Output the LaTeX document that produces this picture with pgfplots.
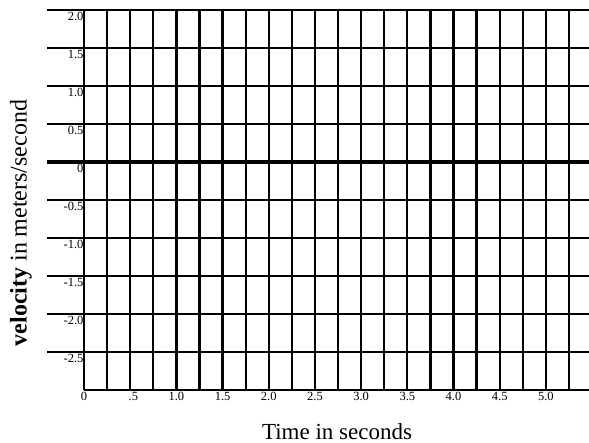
\documentclass[border=0pt]{standalone}
\usepackage{fontspec}
\setmainfont{Liberation Serif}
\usepackage{pgfplots}
\pgfplotsset{compat=1.18}
\begin{document}
\begin{tikzpicture}
\path[use as bounding box] (0pt,0pt) rectangle (589pt,443pt);
\begin{axis}[
  at={(84pt,53pt)}, anchor=south west,
  scale only axis, width=485pt, height=380pt,
  xmin=0, xmax=5.25, ymin=-3, ymax=2,
  clip=false,
  axis line style={draw=none},
  major tick length=0pt,
  xtick={0,0.5,1,1.5,2,2.5,3,3.5,4,4.5,5},
  xticklabels={0,\phantom{0}.5,1.0,1.5,2.0,2.5,3.0,3.5,4.0,4.5,5.0},
  ytick={-2.5,-2,-1.5,-1,-0.5,0,0.5,1,1.5,2},
  yticklabels={-2.5,-2.0,-1.5,-1.0,-0.5,0,0.5,1.0,1.5,2.0},
  ticklabel style={font=\fontsize{12.5}{14}\selectfont},
  xticklabel style={anchor=north, yshift=1pt},
  yticklabel style={anchor=north east, xshift=3pt, yshift=1pt},
  /pgf/number format/assume math mode=true,
]
\pgfplotsinvokeforeach{0,0.25,0.5,0.75,1,1.25,1.5,1.75,2,2.25,2.5,2.75,3,3.25,3.5,3.75,4,4.25,4.5,4.75,5,5.25}{
  \addplot[black, line width=2.3pt, forget plot] coordinates {(#1,-3) (#1,2)};
}
\pgfplotsinvokeforeach{2,1.5,1,0.5,-0.5,-1,-1.5,-2,-2.5}{
  \addplot[black, line width=2.1pt, forget plot] coordinates {(-0.4,#1) (5.466,#1)};
}
\addplot[black, line width=3.3pt, forget plot] coordinates {(-0.4,0) (5.466,0)};
\addplot[black, line width=2.1pt, forget plot] coordinates {(0,-3) (5.466,-3)};
\end{axis}
\node[rotate=90, anchor=center] at (21pt,220pt) {\fontsize{24}{28}\selectfont\textbf{velocity} in meters/second};
\node[anchor=base] at (337pt,3.5pt) {\fontsize{23}{27}\selectfont Time in seconds};
\end{tikzpicture}
\end{document}
